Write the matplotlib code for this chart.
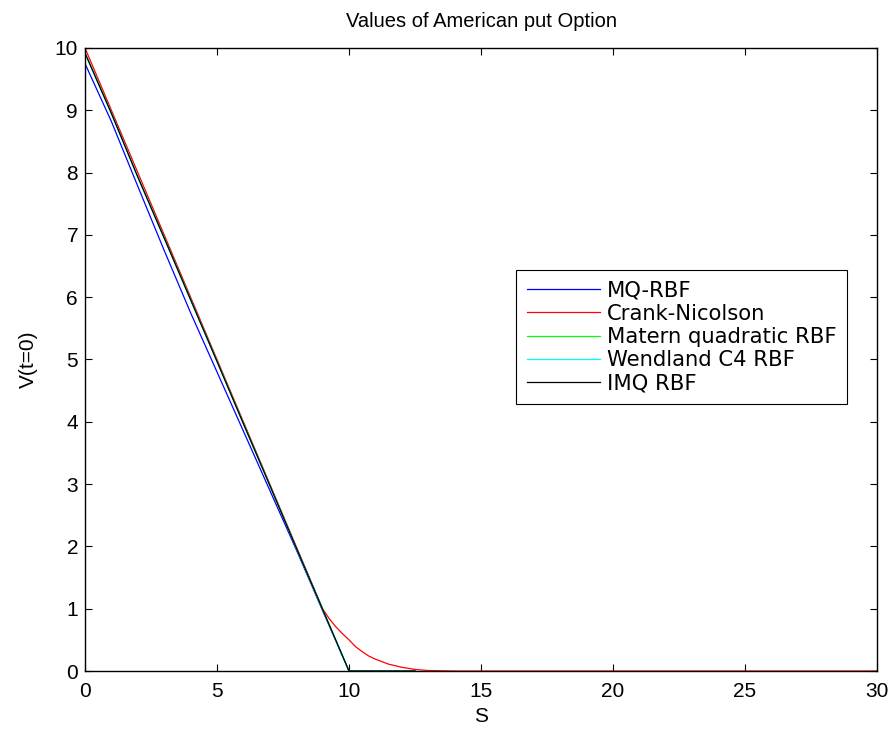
import matplotlib
matplotlib.use("Agg")
import matplotlib.pyplot as plt

plt.rcParams['font.family'] = ['Liberation Sans', 'DejaVu Sans']

# values
S_mq = [0, 1, 2, 3, 4, 5, 6, 7, 8, 9, 10, 12.5]
V_mq = [9.75, 8.82, 7.78, 6.75, 5.75, 4.8, 3.85, 2.9, 1.95, 0.97, 0.0, 0.0]

S_cn = [0, 2, 4, 6, 8, 8.75, 9, 9.25, 9.5, 9.75, 10, 10.25, 10.5, 10.75, 11,
        11.5, 12, 12.5, 13, 14, 30]
V_cn = [10, 8, 6, 4, 2, 1.25, 1.0, 0.84, 0.71, 0.6, 0.5, 0.39, 0.31, 0.24, 0.19,
        0.11, 0.06, 0.025, 0.008, 0.0, 0.0]

S_imq = [0, 1, 2, 3, 4, 5, 6, 7, 8, 9, 10, 12.5]
V_imq = [9.92, 8.95, 7.93, 6.95, 5.96, 4.97, 3.97, 2.98, 1.98, 0.99, 0.0, 0.0]

# Matern and Wendland lie under the IMQ curve
V_mat = V_imq
V_wen = V_imq

fig = plt.figure(figsize=(8.91, 7.36), dpi=100)
ax = fig.add_axes([0.0954, 0.0883, 0.8889, 0.8465])

lw = 0.9
ax.plot(S_mq, V_mq, color='#0000ff', lw=lw, label='MQ-RBF')
ax.plot(S_cn, V_cn, color='#ff0000', lw=lw, label='Crank-Nicolson')
ax.plot(S_imq, V_mat, color='#00ff00', lw=lw, label='Matern quadratic RBF')
ax.plot(S_imq, V_wen, color='#00ffff', lw=lw, label='Wendland C4 RBF')
ax.plot(S_imq, V_imq, color='#000000', lw=lw, label='IMQ RBF')

ax.set_xlim(0, 30)
ax.set_ylim(0, 10)
ax.set_xticks(range(0, 31, 5))
ax.set_yticks(range(0, 11))
ax.tick_params(direction='in', length=5, width=0.8, top=True, right=True,
               labelsize=15)
ax.tick_params(axis='x', pad=8)
ax.tick_params(axis='y', pad=5)
for s in ax.spines.values():
    s.set_linewidth(1.0)

ax.set_title('Values of American put Option', fontsize=14.5, pad=15)
ax.set_xlabel('S', fontsize=15, labelpad=4)
ax.set_ylabel('V(t=0)', fontsize=15, labelpad=12)

leg = ax.legend(loc='upper right', bbox_to_anchor=(0.962, 0.644),
                prop={'family': 'DejaVu Sans', 'size': 15.2},
                fancybox=False, edgecolor='black', framealpha=1,
                handlelength=3.5, handletextpad=0.3, labelspacing=0.16,
                borderpad=0.5, borderaxespad=0)
leg.get_frame().set_linewidth(0.8)

fig.savefig('out.png', dpi=100)
